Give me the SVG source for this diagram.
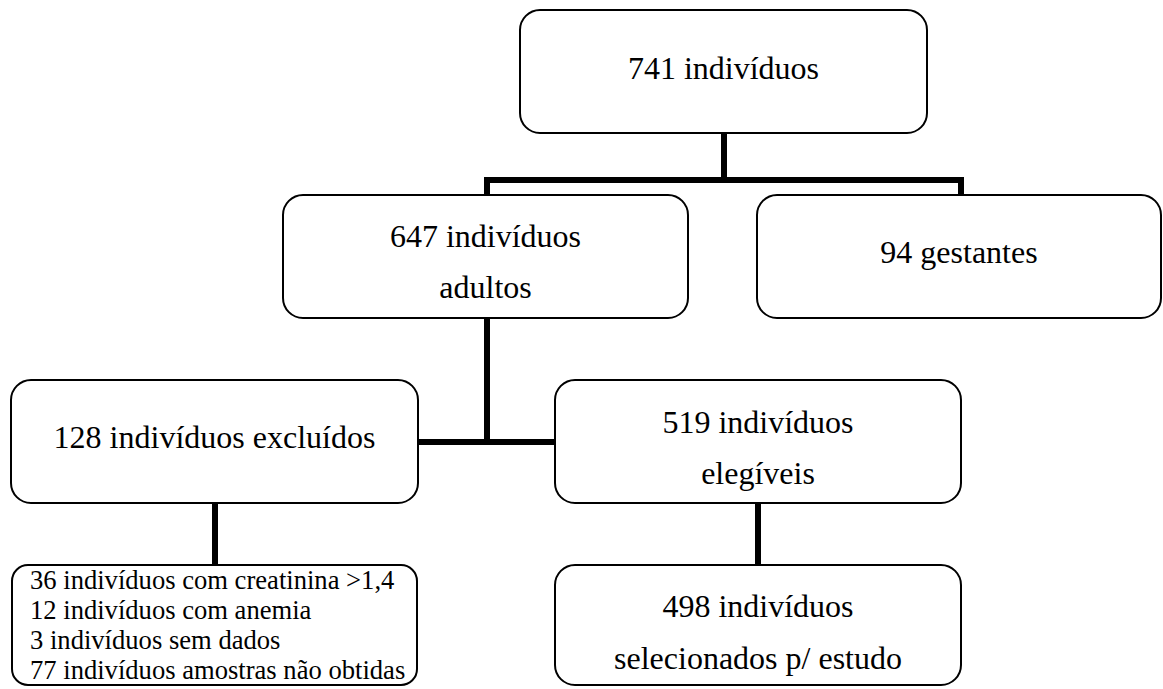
<svg xmlns="http://www.w3.org/2000/svg" width="1163" height="689" viewBox="0 0 1163 689">
<style>
.box{fill:#fff;stroke:#000;stroke-width:2}
.t{font-family:'Liberation Serif','DejaVu Serif',serif;font-size:32px;fill:#000;text-anchor:middle}
.s{font-family:'Liberation Serif','DejaVu Serif',serif;font-size:26.6px;fill:#000}
.c{fill:none;stroke:#000;stroke-width:6;stroke-linejoin:miter;stroke-linecap:butt}
</style>
<rect width="1163" height="689" fill="#fff"/>
<g id="connectors">
<path class="c" d="M724 133 V180"/>
<path class="c" d="M487 195 V180 H961 V195"/>
<path class="c" d="M487 318 V442"/>
<path class="c" d="M418 442 H555"/>
<path class="c" d="M215 503 V565"/>
<path class="c" d="M758 503 V565"/>
</g>
<g id="n741">
<rect class="box" x="520" y="10" width="407" height="123" rx="20"/>
<text class="t" x="723.5" y="79" font-family="Liberation Serif, serif">741 indivíduos</text>
</g>
<g id="n647">
<rect class="box" x="283" y="195" width="405" height="123" rx="20"/>
<text class="t" x="485.5" y="247">647 indivíduos</text>
<text class="t" x="485.5" y="298">adultos</text>
</g>
<g id="n94">
<rect class="box" x="757" y="195" width="404" height="123" rx="20"/>
<text class="t" x="959" y="263">94 gestantes</text>
</g>
<g id="n128">
<rect class="box" x="11" y="380" width="407" height="123" rx="20"/>
<text class="t" x="214.5" y="448">128 indivíduos excluídos</text>
</g>
<g id="n519">
<rect class="box" x="555" y="380" width="406" height="123" rx="20"/>
<text class="t" x="758" y="433">519 indivíduos</text>
<text class="t" x="758" y="484">elegíveis</text>
</g>
<g id="nlist">
<rect class="box" x="12" y="565" width="405" height="120" rx="16"/>
<text class="s" x="30" y="589">36 indivíduos com creatinina &gt;1,4</text>
<text class="s" x="30" y="619">12 indivíduos com anemia</text>
<text class="s" x="30" y="649">3 indivíduos sem dados</text>
<text class="s" x="30" y="679">77 indivíduos amostras não obtidas</text>
</g>
<g id="n498">
<rect class="box" x="555" y="565" width="406" height="120" rx="20"/>
<text class="t" x="758" y="617">498 indivíduos</text>
<text class="t" x="758" y="669">selecionados p/ estudo</text>
</g>
</svg>
